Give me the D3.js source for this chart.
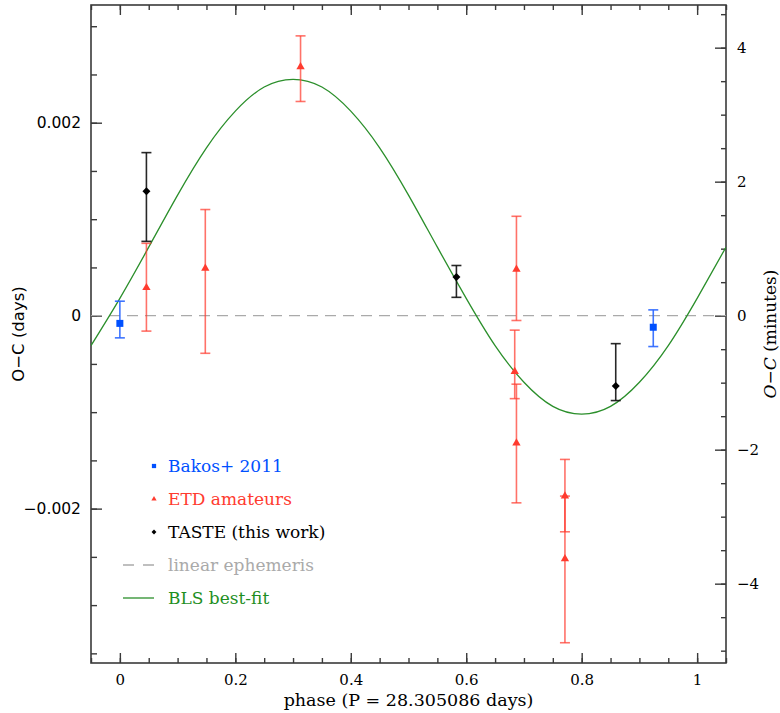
<!DOCTYPE html>
<html>
<head>
<meta charset="utf-8">
<script src="https://cdn.jsdelivr.net/npm/d3@7"></script>
<style>
  body { margin: 0; background: #fff; }
  svg { display: block; }
</style>
</head>
<body>
<div id="chart"></div>
<script>
const width = 780;
const height = 713;

// plot frame
const plotLeft = 91, plotRight = 726, plotTop = 5, plotBottom = 663;

// tick labels / positions
const phaseTicks = [0, 0.2, 0.4, 0.6, 0.8, 1];
const dayTicks = [-0.002, 0, 0.002];
const minuteTicks = [-4, -2, 0, 2, 4];

// [phase, O-C (days), lower end of bar, upper end of bar]
const bakos = [
  [0.000, -0.00008, -0.00023, 0.00015],
  [0.924, -0.00012, -0.00032, 0.00006]
];
const etd = [
  [0.046, 0.00029, -0.00016, 0.00075],
  [0.148, 0.00049, -0.00039, 0.00110],
  [0.313, 0.00258, 0.00222, 0.00290],
  [0.687, 0.00048, -0.00005, 0.00103],
  [0.684, -0.00058, -0.00086, -0.00015],
  [0.687, -0.00132, -0.00194, -0.00071],
  [0.771, -0.00187, -0.00224, -0.00149],
  [0.771, -0.00252, -0.00339, -0.00187]
];
const taste = [
  [0.046, 0.00129, 0.00077, 0.00169],
  [0.583, 0.00040, 0.00019, 0.00052],
  [0.859, -0.00073, -0.00088, -0.00029]
];

const fitPhase = [-0.05, 0, 0.05, 0.1, 0.15, 0.2, 0.25, 0.3, 0.35, 0.4, 0.45, 0.5,
                  0.55, 0.6, 0.65, 0.7, 0.75, 0.8, 0.85, 0.9, 0.95, 1.0, 1.05];
const fitOC = [-0.00031, 0.00018, 0.00071, 0.00125, 0.00174, 0.00212, 0.00237, 0.00245,
               0.00237, 0.00212, 0.00174, 0.00125, 0.00071, 0.00018, -0.00031, -0.00069,
               -0.00094, -0.00102, -0.00094, -0.00069, -0.00031, 0.00018, 0.00071];

const legendLabels = ["Bakos+ 2011", "ETD amateurs", "TASTE (this work)", "linear ephemeris", "BLS best-fit"];

const x = d3.scaleLinear().domain([-0.05, 1.05]).range([plotLeft, plotRight]);
const y = d3.scaleLinear().domain([-0.0036, 0.00322]).range([plotBottom, plotTop]);
const yMin = d3.scaleLinear().domain(y.domain().map(d => d * 1440)).range([plotBottom, plotTop]);

const svg = d3.select("#chart")
  .append("svg")
  .attr("width", width)
  .attr("height", height);

svg.append("defs").append("clipPath").attr("id", "plotclip")
  .append("rect")
  .attr("x", plotLeft).attr("y", plotTop)
  .attr("width", plotRight - plotLeft).attr("height", plotBottom - plotTop);

const axisColor = "#3a3a3a";
const serif = "'DejaVu Serif', serif";
const sans = "'DejaVu Sans', sans-serif";

function styleAxis(g, font, size) {
  g.select(".domain").remove();
  g.selectAll(".tick line").attr("stroke", axisColor).attr("stroke-width", 1.4);
  g.selectAll(".tick text")
    .attr("fill", "#000")
    .style("font-family", font)
    .style("font-size", size + "px");
}

const minusFmt = d => d === 0 ? "0" : d3.format(".3f")(d);

// bottom
svg.append("g").attr("transform", `translate(0,${plotBottom})`)
  .call(d3.axisBottom(x).tickValues(d3.range(-0.05, 1.06, 0.05)).tickSize(-5).tickFormat(""))
  .call(g => styleAxis(g, serif, 15));
svg.append("g").attr("transform", `translate(0,${plotBottom})`)
  .call(d3.axisBottom(x).tickValues(phaseTicks).tickSize(-10).tickPadding(11).tickFormat(d3.format("")))
  .call(g => styleAxis(g, serif, 15));

// top
svg.append("g").attr("transform", `translate(0,${plotTop})`)
  .call(d3.axisTop(x).tickValues(d3.range(-0.05, 1.06, 0.05)).tickSize(-5).tickFormat(""))
  .call(g => styleAxis(g, serif, 15));
svg.append("g").attr("transform", `translate(0,${plotTop})`)
  .call(d3.axisTop(x).tickValues(phaseTicks).tickSize(-10).tickFormat(""))
  .call(g => styleAxis(g, serif, 15));

// left (days)
svg.append("g").attr("transform", `translate(${plotLeft},0)`)
  .call(d3.axisLeft(y).tickValues(d3.range(-0.0035, 0.0031, 0.0005)).tickSize(-6).tickFormat(""))
  .call(g => styleAxis(g, sans, 15));
svg.append("g").attr("transform", `translate(${plotLeft},0)`)
  .call(d3.axisLeft(y).tickValues(dayTicks).tickSize(-11).tickPadding(10).tickFormat(minusFmt))
  .call(g => styleAxis(g, sans, 15.5));

// right (minutes)
svg.append("g").attr("transform", `translate(${plotRight},0)`)
  .call(d3.axisRight(yMin).tickValues(d3.range(-5, 4.6, 0.5)).tickSize(-5).tickFormat(""))
  .call(g => styleAxis(g, serif, 15));
svg.append("g").attr("transform", `translate(${plotRight},0)`)
  .call(d3.axisRight(yMin).tickValues(minuteTicks).tickSize(-11).tickPadding(11).tickFormat(d3.format("")))
  .call(g => styleAxis(g, serif, 15));

// frame
svg.append("rect")
  .attr("x", plotLeft).attr("y", plotTop)
  .attr("width", plotRight - plotLeft).attr("height", plotBottom - plotTop)
  .attr("fill", "none")
  .attr("stroke", axisColor)
  .attr("stroke-width", 1.6);

// axis titles
svg.append("text")
  .attr("x", (plotLeft + plotRight) / 2).attr("y", 706)
  .attr("text-anchor", "middle")
  .style("font-family", serif).style("font-size", "17.5px")
  .text("phase (P = 28.305086 days)");

svg.append("text")
  .attr("transform", `translate(24,${(plotTop + plotBottom) / 2}) rotate(-90)`)
  .attr("text-anchor", "middle")
  .style("font-family", sans).style("font-size", "16.5px")
  .text("O\u2212C (days)");

const rt = svg.append("text")
  .attr("transform", `translate(776,${(plotTop + plotBottom) / 2}) rotate(-90)`)
  .attr("text-anchor", "middle")
  .style("font-family", serif).style("font-size", "17px");
rt.append("tspan").style("font-style", "italic").text("O\u2212C");
rt.append("tspan").text(" (minutes)");

// linear ephemeris
svg.append("line")
  .attr("x1", plotLeft).attr("x2", plotRight)
  .attr("y1", y(0)).attr("y2", y(0))
  .attr("stroke", "#aaaaaa")
  .attr("stroke-width", 1.3)
  .attr("stroke-dasharray", "11,7");

// BLS best-fit
const fitLine = d3.line()
  .x((d, i) => x(fitPhase[i]))
  .y(d => y(d))
  .curve(d3.curveNatural);

svg.append("path")
  .attr("clip-path", "url(#plotclip)")
  .attr("d", fitLine(fitOC))
  .attr("fill", "none")
  .attr("stroke", "#2b8f2b")
  .attr("stroke-width", 1.3);

// error bars + markers
function drawSeries(data, barColor, barOpacity, markerColor, symbol) {
  const g = svg.append("g");
  const bars = g.selectAll("g.bar").data(data).join("g").attr("class", "bar")
    .attr("stroke", barColor)
    .attr("stroke-opacity", barOpacity)
    .attr("stroke-width", 1.6);
  bars.append("line")
    .attr("x1", d => x(d[0])).attr("x2", d => x(d[0]))
    .attr("y1", d => y(d[2])).attr("y2", d => y(d[3]));
  bars.append("line")
    .attr("x1", d => x(d[0]) - 5).attr("x2", d => x(d[0]) + 5)
    .attr("y1", d => y(d[2])).attr("y2", d => y(d[2]));
  bars.append("line")
    .attr("x1", d => x(d[0]) - 5).attr("x2", d => x(d[0]) + 5)
    .attr("y1", d => y(d[3])).attr("y2", d => y(d[3]));
  g.selectAll("path.mark").data(data).join("path").attr("class", "mark")
    .attr("d", symbol.path)
    .attr("transform", d => `translate(${x(d[0])},${y(d[1])})${symbol.rot}`)
    .attr("fill", markerColor);
}

const squareSym = { path: d3.symbol(d3.symbolSquare, 49)(), rot: "" };
const triSym = { path: d3.symbol(d3.symbolTriangle, 30)(), rot: "" };
const diamondSym = { path: d3.symbol(d3.symbolSquare, 32)(), rot: " rotate(45)" };

drawSeries(bakos, "#2a66ff", 0.9, "#0050ff", squareSym);
drawSeries(etd, "#ff3b2f", 0.72, "#ff3b2f", triSym);
drawSeries(taste, "#111", 0.9, "#000", diamondSym);

// legend
const legendY = [466, 499, 532, 565, 598];
const legendColors = ["#0050ff", "#ff3b2f", "#000", "#aaaaaa", "#1f8f1f"];
const legendSyms = [
  { path: d3.symbol(d3.symbolSquare, 18)(), rot: "" },
  { path: d3.symbol(d3.symbolTriangle, 12)(), rot: "" },
  { path: d3.symbol(d3.symbolSquare, 12)(), rot: " rotate(45)" }
];

const legend = svg.append("g");
legendLabels.forEach((label, i) => {
  if (i < 3) {
    legend.append("path")
      .attr("d", legendSyms[i].path)
      .attr("transform", `translate(154,${legendY[i]})${legendSyms[i].rot}`)
      .attr("fill", legendColors[i]);
  } else {
    legend.append("line")
      .attr("x1", 123).attr("x2", 154)
      .attr("y1", legendY[i]).attr("y2", legendY[i])
      .attr("stroke", i === 3 ? "#aaaaaa" : "#2b8f2b")
      .attr("stroke-width", 1.3)
      .attr("stroke-dasharray", i === 3 ? "11,9" : null);
  }
  legend.append("text")
    .attr("x", 168).attr("y", legendY[i])
    .attr("dy", "0.36em")
    .attr("fill", legendColors[i])
    .style("font-family", serif).style("font-size", "17px")
    .text(label);
});
</script>
</body>
</html>
